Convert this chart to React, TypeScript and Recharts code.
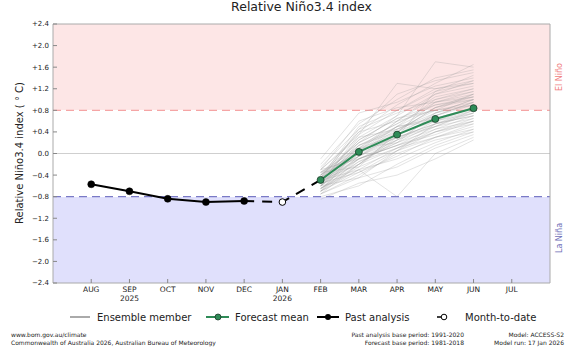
import React from 'react';
import { ComposedChart, Line, XAxis, YAxis, CartesianGrid, ReferenceLine, Legend } from 'recharts';

const FONT = '"DejaVu Sans", sans-serif';

const months = ['AUG', 'SEP', 'OCT', 'NOV', 'DEC', 'JAN', 'FEB', 'MAR', 'APR', 'MAY', 'JUN', 'JUL'];
const yearLabels: Record<string, string> = { SEP: '2025', JAN: '2026' };
const yTicks = [-2.4, -2.0, -1.6, -1.2, -0.8, -0.4, 0, 0.4, 0.8, 1.2, 1.6, 2.0, 2.4];

const pastMonths = ['AUG', 'SEP', 'OCT', 'NOV', 'DEC'];
const pastAnalysis = [-0.57, -0.7, -0.84, -0.9, -0.88];
const mtdMonths = ['JAN'];
const monthToDate = [-0.9];
const linkMonths = ['DEC', 'JAN', 'FEB'];
const linkValues = [-0.88, -0.9, -0.49];
const forecastMonths = ['FEB', 'MAR', 'APR', 'MAY', 'JUN'];
const forecastMean = [-0.49, 0.03, 0.35, 0.64, 0.84];

// each member: FEB, MAR, APR, MAY, JUN (read roughly off the spaghetti)
const ensembleMembers = [
  [-0.55, -0.1, 0.25, 0.6, 0.85],
  [-0.4, 0.2, 0.55, 0.95, 1.1],
  [-0.7, -0.35, 0.05, 0.3, 0.55],
  [-0.3, 0.35, 0.8, 1.2, 1.35],
  [-0.6, 0.05, 0.4, 0.7, 0.9],
  [-0.5, -0.2, 0.1, 0.45, 0.7],
  [-0.45, 0.25, 0.65, 0.9, 1.05],
  [-0.65, -0.3, -0.1, 0.2, 0.45],
  [-0.2, 0.55, 1.0, 1.4, 1.55],
  [-0.55, 0.0, 0.3, 0.5, 0.75],
  [-0.75, -0.45, -0.25, 0.1, 0.35],
  [-0.35, 0.1, 0.6, 1.05, 1.2],
  [-0.5, 0.15, 0.45, 0.8, 0.95],
  [-0.6, -0.15, 0.2, 0.55, 0.8],
  [-0.4, 0.4, 0.9, 1.3, 1.65],
  [-0.7, -0.1, 0.15, 0.35, 0.6],
  [-0.45, 0.05, 0.5, 0.85, 1.0],
  [-0.55, 0.3, 0.7, 1.7, 1.6],
  [-0.85, -0.55, -0.4, -0.1, 0.25],
  [-0.25, 0.45, 0.75, 1.0, 1.15],
  [-0.6, -0.05, 0.35, 0.65, 0.85],
  [-0.5, 0.1, 0.2, 0.75, 0.9],
  [-0.65, -0.25, 0.05, 0.4, 0.65],
  [-0.35, 0.2, 0.7, 1.1, 1.25],
  [-0.45, -0.05, 0.3, 0.55, 0.7],
  [-0.55, 0.35, 1.3, 1.2, 1.3],
  [-0.7, -0.2, 0.25, 0.5, 0.8],
  [-0.3, 0.6, 0.85, 0.95, 1.05],
  [-0.6, 0.0, 0.45, 0.7, 0.95],
  [-0.5, -0.3, -0.8, 0.0, 0.3],
  [-0.4, 0.15, 0.4, 0.85, 1.1],
  [-0.65, -0.15, 0.1, 0.3, 0.5],
  [-0.55, 0.2, 0.55, 0.9, 1.0],
  [-0.1, 0.75, 0.95, 1.25, 1.4],
  [-0.75, -0.4, 0.0, 0.25, 0.4],
  [-0.45, 0.1, 0.35, 0.6, 0.75],
  [-0.35, 0.0, 0.5, 1.0, 1.2],
  [-0.6, -0.1, 0.2, 0.45, 0.6],
  [-0.5, 0.25, 0.65, 0.8, 0.9],
  [-0.4, -0.05, 0.25, 0.7, 0.95],
  [-0.8, -0.6, -0.2, 0.15, 0.4],
  [-0.55, 0.05, 0.6, 1.1, 1.35],
  [-0.65, -0.2, 0.3, 0.55, 0.7],
  [-0.3, 0.3, 0.45, 0.75, 1.0],
  [-0.5, -0.1, 0.15, 0.5, 0.65],
  [-0.45, 0.5, 0.8, 1.15, 1.45],
  [-0.7, -0.3, 0.1, 0.4, 0.55],
  [-0.6, 0.15, 0.5, 0.65, 0.85],
  [-0.35, -0.25, 0.4, 0.95, 1.15],
  [-0.55, -0.35, -0.05, 0.3, 0.45],
  [-0.65, -0.05, 0.4, 0.85, 1.05],
  [-0.45, 0.4, 0.6, 0.8, 1.1],
  [-0.6, -0.45, 0.05, 0.55, 0.75],
  [-0.4, 0.05, 0.3, 1.15, 1.3],
  [-0.7, 0.1, 0.5, 0.6, 0.8],
  [-0.5, 0.45, 1.1, 1.35, 1.5],
  [-0.75, -0.2, 0.35, 0.75, 1.0],
  [-0.3, -0.1, 0.15, 0.4, 0.6],
];

// background band edges (El Niño / neutral / La Niña) and their fills, top to bottom
const bandEdges = [2.4, 0.8, -0.8, -2.4];
const bandFills = ['#fde6e6', '#ffffff', '#e0e0fc'];
const Y_DOMAIN: [number, number] = [-2.4, 2.4];

const data = months.map((m, i) => {
  const row: any = { x: i };
  const p = pastMonths.indexOf(m);
  if (p >= 0) row.past = pastAnalysis[p];
  const t = mtdMonths.indexOf(m);
  if (t >= 0) row.mtd = monthToDate[t];
  const l = linkMonths.indexOf(m);
  if (l >= 0) row.link = linkValues[l];
  const f = forecastMonths.indexOf(m);
  if (f >= 0) {
    row.mean = forecastMean[f];
    ensembleMembers.forEach((e, k) => { row['e' + k] = e[f]; });
  }
  return row;
});

const xTicks = months.map((_, i) => i);

const fmtY = (v: number) => {
  if (Math.abs(v) < 1e-9) return '0.0';
  return (v > 0 ? '+' : '\u2212') + Math.abs(v).toFixed(1);
};

// stripe edges through the y axis scale, sorted top to bottom in pixels
const bandCoords = (args: any) => {
  const s = args && args.yAxis ? args.yAxis.scale : null;
  const off = (args && args.offset) || {};
  const toPx = (v: number) => {
    if (typeof s === 'function') return s(v);
    if (s && typeof s.map === 'function') return s.map(v);
    return off.top + ((Y_DOMAIN[1] - v) / (Y_DOMAIN[1] - Y_DOMAIN[0])) * off.height;
  };
  return bandEdges.map(toPx).sort((a: number, b: number) => a - b);
};

const MonthTick = (props: any) => {
  const { x, y, payload } = props;
  const name = months[payload.value];
  return (
    <g>
      <text x={x} y={y + 7} textAnchor="middle" fontSize={7.5} fill="#222" fontFamily={FONT}>{name}</text>
      {yearLabels[name] && (
        <text x={x} y={y + 16} textAnchor="middle" fontSize={7.5} fill="#222" fontFamily={FONT}>{yearLabels[name]}</text>
      )}
    </g>
  );
};

const renderLegend = () => (
  <svg width={570} height={20} style={{ display: 'block' }}>
    <g fontFamily={FONT} fontSize={10} fill="#222">
      <line x1={70} x2={90} y1={10} y2={10} stroke="#aaa" strokeWidth={2} />
      <text x={97} y={13.5}>Ensemble member</text>
      <line x1={206} x2={229} y1={10} y2={10} stroke="#2e8b57" strokeWidth={2} />
      <circle cx={218} cy={10} r={3} fill="#2e8b57" stroke="#1c3a28" strokeWidth={0.8} />
      <text x={235} y={13.5}>Forecast mean</text>
      <line x1={317} x2={339} y1={10} y2={10} stroke="#000" strokeWidth={2} />
      <circle cx={328} cy={10} r={3} fill="#000" />
      <text x={345} y={13.5}>Past analysis</text>
      <line x1={437} x2={446} y1={10} y2={10} stroke="#000" strokeWidth={1.5} />
      <circle cx={444} cy={10} r={2.8} fill="#fff" stroke="#000" strokeWidth={1} />
      <text x={465} y={13.5}>Month-to-date</text>
    </g>
  </svg>
);

export default function App() {
  return (
    <div style={{ position: 'relative', width: 570, height: 351, background: '#fff' }}>
      <style>{'body{margin:0}'}</style>
      <ComposedChart width={570} height={351} data={data} margin={{ top: 23, right: 19, bottom: 48, left: 0 }}>
        <CartesianGrid horizontal vertical={false} stroke="transparent" horizontalFill={bandFills}
          fillOpacity={1} horizontalCoordinatesGenerator={bandCoords} syncWithTicks={false} />
        <ReferenceLine y={0} stroke="#cfcfcf" strokeWidth={1} />
        <ReferenceLine y={0.8} stroke="#f5a5a5" strokeWidth={1.3} strokeDasharray="8 5" />
        <ReferenceLine y={-0.8} stroke="#7a7ac6" strokeWidth={1.3} strokeDasharray="8 5" />
        <XAxis dataKey="x" type="number" domain={[-1, 12]} ticks={xTicks} allowDataOverflow
          height={20} tickSize={-4} tickMargin={6} tick={<MonthTick />}
          axisLine={{ stroke: '#aaa' }} tickLine={{ stroke: '#888' }} />
        <XAxis xAxisId="top" orientation="top" dataKey="x" type="number" domain={[-1, 12]} ticks={xTicks}
          allowDataOverflow height={1} tickSize={-4} tick={false}
          axisLine={{ stroke: '#aaa' }} tickLine={{ stroke: '#888' }} />
        <YAxis type="number" domain={Y_DOMAIN} ticks={yTicks} allowDataOverflow width={53}
          tickSize={-4} tickMargin={8} tickFormatter={fmtY}
          tick={{ fontSize: 7, fill: '#222', fontFamily: FONT }}
          axisLine={{ stroke: '#aaa' }} tickLine={{ stroke: '#888' }} />
        <YAxis yAxisId="right" orientation="right" type="number" domain={Y_DOMAIN} ticks={yTicks}
          allowDataOverflow width={1} tickSize={-4} tick={false}
          axisLine={{ stroke: '#aaa' }} tickLine={{ stroke: '#888' }} />
        {ensembleMembers.map((_, k) => (
          <Line key={'e' + k} dataKey={'e' + k} stroke="#9a9a9a" strokeOpacity={0.35} strokeWidth={0.8}
            dot={false} activeDot={false} isAnimationActive={false} />
        ))}
        <Line dataKey="link" stroke="#000" strokeWidth={2} strokeDasharray="10 8" dot={false}
          activeDot={false} isAnimationActive={false} />
        <Line dataKey="past" stroke="#000" strokeWidth={2} dot={{ r: 3.5, fill: '#000', stroke: '#000', strokeWidth: 0.5 }}
          activeDot={false} isAnimationActive={false} />
        <Line dataKey="mtd" stroke="#000" strokeWidth={2} dot={{ r: 3.3, fill: '#fff', stroke: '#000', strokeWidth: 1 }}
          activeDot={false} isAnimationActive={false} />
        <Line dataKey="mean" stroke="#2e8b57" strokeWidth={2} dot={{ r: 3.5, fill: '#2e8b57', stroke: '#1c3a28', strokeWidth: 0.8 }}
          activeDot={false} isAnimationActive={false} />
        <Legend verticalAlign="middle" content={renderLegend} wrapperStyle={{ top: 307, left: 0, width: 570 }} />
      </ComposedChart>
      <svg width={570} height={351} style={{ position: 'absolute', top: 0, left: 0, pointerEvents: 'none' }}>
        <g fontFamily={FONT}>
          <text x={301.5} y={11} textAnchor="middle" fontSize={12.5} fill="#222">Relative Niño3.4 index</text>
          <text transform="translate(23,153) rotate(-90)" textAnchor="middle" fontSize={10} fill="#222">
            Relative Niño3.4 index ( ° C)
          </text>
          <text transform="translate(562,77) rotate(-90)" textAnchor="middle" fontSize={8} fill="#f08080">El Niño</text>
          <text transform="translate(562,238) rotate(-90)" textAnchor="middle" fontSize={8} fill="#7070b8">La Niña</text>
          <g fontSize={6} fill="#222">
            <text x={11} y={337}>www.bom.gov.au/climate</text>
            <text x={11} y={345}>Commonwealth of Australia 2026, Australian Bureau of Meteorology</text>
            <text x={464} y={337} textAnchor="end">Past analysis base period: 1991-2020</text>
            <text x={464} y={345} textAnchor="end">Forecast base period: 1981-2018</text>
            <text x={564} y={337} textAnchor="end">Model: ACCESS-S2</text>
            <text x={564} y={345} textAnchor="end">Model run: 17 Jan 2026</text>
          </g>
        </g>
      </svg>
    </div>
  );
}
